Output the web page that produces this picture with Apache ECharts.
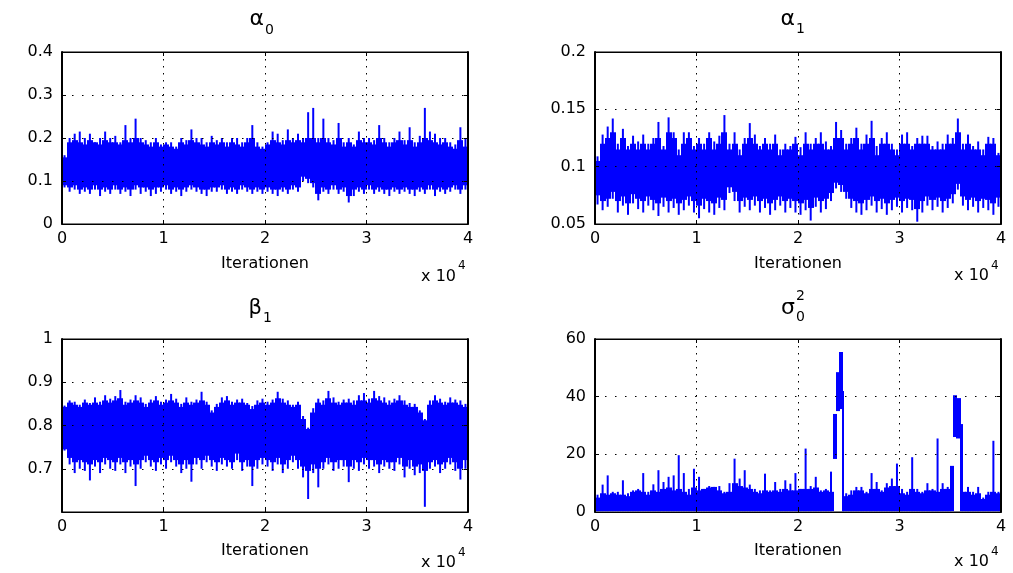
<!DOCTYPE html>
<html><head><meta charset="utf-8">
<script src="https://cdn.jsdelivr.net/npm/echarts@6/dist/echarts.min.js"></script>
<style>html,body{margin:0;padding:0;background:#fff}#c{width:1013px;height:573px}</style>
</head><body><div id="c"></div>
<script>
// ---------- data (each bin = 500 iterations) ----------
const BIN = 500;
const xTickLabels = ['0', '1', '2', '3', '4'];

// alpha_0 trace: extreme high / dense-core high / dense-core low / extreme low per bin
const alpha0Hi = [0.16,0.20,0.21,0.215,0.2,0.21,0.19,0.2,0.215,0.2,
  0.205,0.19,0.23,0.2,0.245,0.2,0.195,0.19,0.2,0.185,
  0.19,0.19,0.18,0.2,0.195,0.22,0.2,0.2,0.19,0.205,
  0.195,0.2,0.19,0.2,0.2,0.19,0.2,0.23,0.19,0.18,
  0.19,0.215,0.21,0.195,0.22,0.2,0.21,0.2,0.26,0.27,
  0.2,0.245,0.2,0.195,0.235,0.19,0.2,0.185,0.215,0.2,
  0.2,0.195,0.23,0.2,0.19,0.2,0.215,0.195,0.225,0.19,
  0.205,0.27,0.215,0.21,0.2,0.2,0.19,0.185,0.225,0.2];
const alpha0CoreHi = [0.155,0.19,0.195,0.19,0.185,0.195,0.19,0.185,0.195,0.19,
  0.19,0.185,0.195,0.19,0.2,0.19,0.185,0.18,0.19,0.18,
  0.185,0.18,0.175,0.19,0.185,0.195,0.19,0.185,0.18,0.19,
  0.185,0.19,0.18,0.19,0.185,0.18,0.19,0.2,0.18,0.175,
  0.185,0.195,0.19,0.185,0.195,0.19,0.195,0.19,0.2,0.2,
  0.19,0.2,0.19,0.185,0.2,0.18,0.19,0.18,0.195,0.19,
  0.19,0.185,0.2,0.19,0.18,0.19,0.195,0.185,0.195,0.18,
  0.19,0.2,0.195,0.19,0.185,0.19,0.18,0.175,0.195,0.18];
const alpha0CoreLo = [0.09,0.085,0.09,0.08,0.085,0.08,0.09,0.08,0.085,0.08,
  0.09,0.08,0.085,0.08,0.09,0.085,0.085,0.08,0.085,0.085,
  0.09,0.08,0.085,0.08,0.085,0.09,0.085,0.08,0.08,0.085,
  0.085,0.09,0.08,0.085,0.08,0.09,0.085,0.08,0.085,0.08,
  0.085,0.08,0.08,0.085,0.08,0.09,0.085,0.11,0.105,0.095,
  0.07,0.085,0.08,0.09,0.08,0.085,0.065,0.08,0.085,0.08,
  0.09,0.08,0.085,0.08,0.08,0.085,0.08,0.085,0.08,0.08,
  0.085,0.08,0.09,0.08,0.085,0.08,0.085,0.09,0.08,0.09];
const alpha0Lo = [0.085,0.075,0.08,0.07,0.075,0.07,0.08,0.065,0.075,0.07,
  0.08,0.07,0.075,0.065,0.08,0.07,0.075,0.065,0.07,0.075,
  0.08,0.07,0.075,0.065,0.075,0.08,0.075,0.07,0.065,0.075,
  0.075,0.08,0.07,0.075,0.07,0.08,0.075,0.07,0.075,0.07,
  0.075,0.07,0.065,0.075,0.07,0.08,0.075,0.1,0.095,0.085,
  0.055,0.075,0.07,0.08,0.07,0.075,0.05,0.065,0.075,0.07,
  0.08,0.07,0.075,0.07,0.065,0.075,0.07,0.075,0.07,0.065,
  0.075,0.07,0.08,0.065,0.075,0.07,0.075,0.08,0.07,0.08];

// alpha_1 trace
const alpha1Hi = [0.109,0.128,0.135,0.142,0.12,0.133,0.118,0.127,0.122,0.128,
  0.12,0.125,0.139,0.118,0.143,0.13,0.115,0.13,0.13,0.118,
  0.125,0.12,0.13,0.122,0.127,0.145,0.12,0.13,0.115,0.125,
  0.138,0.128,0.118,0.125,0.12,0.128,0.115,0.12,0.118,0.126,
  0.117,0.13,0.12,0.125,0.13,0.122,0.118,0.139,0.132,0.12,
  0.125,0.134,0.12,0.128,0.14,0.118,0.125,0.13,0.12,0.115,
  0.128,0.13,0.118,0.125,0.127,0.127,0.118,0.122,0.12,0.128,
  0.125,0.142,0.12,0.128,0.118,0.122,0.115,0.126,0.125,0.112];
const alpha1CoreHi = [0.105,0.12,0.125,0.13,0.115,0.125,0.115,0.12,0.115,0.12,
  0.115,0.12,0.125,0.115,0.13,0.125,0.11,0.12,0.125,0.115,
  0.12,0.115,0.125,0.115,0.12,0.13,0.115,0.12,0.11,0.12,
  0.125,0.12,0.115,0.12,0.115,0.12,0.11,0.115,0.115,0.12,
  0.11,0.12,0.115,0.12,0.12,0.115,0.115,0.125,0.125,0.115,
  0.12,0.125,0.115,0.12,0.125,0.11,0.12,0.12,0.115,0.11,
  0.12,0.12,0.115,0.12,0.12,0.12,0.115,0.115,0.115,0.12,
  0.12,0.13,0.115,0.12,0.115,0.115,0.11,0.12,0.12,0.11];
const alpha1CoreLo = [0.075,0.07,0.072,0.078,0.07,0.074,0.068,0.076,0.072,0.07,
  0.074,0.071,0.068,0.073,0.07,0.072,0.068,0.071,0.074,0.07,
  0.066,0.072,0.07,0.068,0.073,0.071,0.082,0.078,0.07,0.073,
  0.071,0.074,0.07,0.072,0.068,0.071,0.074,0.07,0.072,0.07,
  0.068,0.071,0.064,0.073,0.07,0.072,0.077,0.086,0.084,0.078,
  0.072,0.07,0.068,0.071,0.074,0.07,0.072,0.068,0.071,0.073,
  0.07,0.072,0.071,0.063,0.07,0.074,0.071,0.073,0.07,0.072,
  0.076,0.085,0.074,0.071,0.073,0.07,0.072,0.071,0.068,0.073];
const alpha1Lo = [0.067,0.062,0.065,0.072,0.06,0.066,0.058,0.068,0.063,0.06,
  0.066,0.062,0.057,0.065,0.06,0.064,0.058,0.062,0.066,0.06,
  0.055,0.063,0.06,0.058,0.064,0.062,0.077,0.07,0.06,0.065,
  0.062,0.066,0.06,0.064,0.058,0.062,0.066,0.06,0.064,0.06,
  0.058,0.062,0.053,0.065,0.06,0.063,0.07,0.081,0.078,0.072,
  0.064,0.06,0.058,0.062,0.066,0.06,0.063,0.058,0.062,0.065,
  0.06,0.064,0.062,0.052,0.06,0.066,0.062,0.065,0.06,0.064,
  0.068,0.08,0.066,0.062,0.065,0.06,0.064,0.062,0.058,0.065];

// beta_1 trace
const beta1Hi = [0.846,0.858,0.855,0.848,0.86,0.852,0.865,0.855,0.87,0.862,
  0.868,0.882,0.855,0.86,0.87,0.865,0.85,0.86,0.868,0.855,
  0.86,0.873,0.862,0.85,0.865,0.855,0.86,0.878,0.855,0.835,
  0.85,0.865,0.868,0.855,0.86,0.862,0.852,0.845,0.858,0.862,
  0.855,0.86,0.878,0.862,0.858,0.848,0.855,0.822,0.795,0.84,
  0.862,0.858,0.88,0.865,0.855,0.86,0.862,0.858,0.87,0.875,
  0.862,0.88,0.868,0.865,0.858,0.862,0.87,0.858,0.852,0.85,
  0.835,0.815,0.858,0.87,0.862,0.855,0.865,0.86,0.858,0.85];
const beta1CoreHi = [0.843,0.853,0.848,0.843,0.853,0.848,0.853,0.848,0.858,0.853,
  0.858,0.863,0.848,0.853,0.858,0.853,0.843,0.853,0.858,0.848,
  0.853,0.858,0.853,0.843,0.853,0.848,0.853,0.858,0.848,0.83,
  0.843,0.853,0.858,0.848,0.853,0.853,0.848,0.838,0.848,0.853,
  0.848,0.853,0.863,0.853,0.848,0.843,0.848,0.815,0.792,0.83,
  0.853,0.848,0.863,0.853,0.848,0.853,0.853,0.848,0.858,0.858,
  0.853,0.863,0.858,0.853,0.848,0.853,0.858,0.848,0.843,0.843,
  0.83,0.812,0.848,0.858,0.853,0.848,0.853,0.853,0.848,0.843];
const beta1CoreLo = [0.745,0.725,0.715,0.72,0.715,0.71,0.72,0.715,0.725,0.72,
  0.715,0.725,0.715,0.72,0.71,0.72,0.73,0.72,0.715,0.725,
  0.72,0.73,0.72,0.71,0.72,0.71,0.725,0.72,0.73,0.72,
  0.715,0.725,0.72,0.715,0.735,0.715,0.72,0.705,0.72,0.725,
  0.72,0.715,0.725,0.71,0.72,0.73,0.72,0.705,0.695,0.71,
  0.7,0.715,0.725,0.715,0.72,0.72,0.705,0.72,0.715,0.725,
  0.72,0.72,0.71,0.72,0.715,0.715,0.725,0.705,0.72,0.705,
  0.71,0.695,0.715,0.72,0.71,0.715,0.725,0.715,0.7,0.72];
const beta1Lo = [0.742,0.71,0.69,0.7,0.695,0.673,0.705,0.69,0.71,0.7,
  0.695,0.71,0.69,0.705,0.66,0.7,0.715,0.705,0.695,0.71,
  0.7,0.715,0.705,0.69,0.7,0.67,0.71,0.7,0.715,0.705,
  0.695,0.71,0.705,0.7,0.72,0.695,0.705,0.66,0.7,0.71,
  0.705,0.695,0.71,0.69,0.7,0.715,0.7,0.68,0.63,0.69,
  0.657,0.7,0.71,0.695,0.7,0.705,0.669,0.7,0.695,0.71,
  0.7,0.705,0.69,0.705,0.7,0.695,0.71,0.68,0.7,0.685,
  0.69,0.612,0.7,0.705,0.69,0.7,0.71,0.695,0.675,0.7];

// sigma_0^2 trace: floor, band top and spike top per bin (null = bin covered by a peak segment)
const sigmaFloor = 0.3;
const sigmaBase = [5,6.5,6,6.5,6,6,5.5,7,7.5,7,
  6,7.5,7,8,8.5,7.5,8,7,6,8.5,
  7.5,8,8.5,8.7,7.5,6.5,7,10,9,8.5,
  8,7,6.5,7.5,7,7.5,7,8,7.5,7.5,
  8,8,8,8.5,7,7.5,7,null,null,5.5,
  6,7.5,7.5,6.5,8,8,7,8.5,9,9,
  6.5,6,8,7,6.5,7.5,7.5,7,8,8,
  null,null,null,7,6,6.5,4.5,6,7,6.5];
const sigmaSpike = [6,9.5,12.7,7,7,11,6.5,7.5,8,13.5,
  7,9.6,14.5,10.4,12.2,12.7,19.7,13.5,8,15,
  12.2,8,9,8.7,9,7,10,18.5,11.6,14.5,
  9.5,8,7.5,13.3,7.5,10.4,8,11,9.8,13.5,
  8,22,9,12.2,7.5,8,14,null,null,6.5,
  7.5,8.7,8.7,7,13.5,10.4,7.5,10,11.6,16.8,
  8,7,19,8,7,10,8,25.5,10,8.7,
  null,null,null,8.7,7,8.7,5,7,24.7,7];
// the two excursions of sigma_0^2 (iteration start, end, low, high)
const peakStart = [23500, 23770, 24110, 24340, 35000, 35340, 35600, 35990, 36200];
const peakEnd   = [23770, 24110, 24340, 24500, 35340, 35600, 35990, 36200, 36500];
const peakLo    = [18.4, 35, 35.7, 0.3, 0.3, 26, 25.5, 0.3, 0.3];
const peakHi    = [34, 48.5, 55.5, 42, 16, 40.5, 39.5, 30.5, 7];

// ---------- chart ----------
const FONT = 'DejaVu Sans';
const BLUE = '#0000ff';

function binData(lo, cLo, cHi, hi) {
  const out = [];
  for (let i = 0; i < hi.length; i++) {
    if (hi[i] == null) continue;
    out.push([i * BIN, (i + 1) * BIN, lo[i], cLo[i], cHi[i], hi[i]]);
  }
  return out;
}
function renderBin(params, api) {
  const s = api.value(0), e = api.value(1);
  const lo = api.value(2), hi = api.value(5);
  const cLo = Math.max(api.value(3), lo), cHi = Math.min(api.value(4), hi);
  const a = api.coord([s, cHi]), b = api.coord([e, cLo]);
  const m = (s + e) / 2;
  const t = api.coord([m, hi]), u = api.coord([m, lo]);
  const x0 = Math.floor(a[0]), x1 = Math.ceil(b[0]);
  return {
    type: 'group',
    children: [
      { type: 'rect', shape: { x: x0, y: a[1], width: x1 - x0, height: b[1] - a[1] }, style: { fill: BLUE } },
      { type: 'rect', shape: { x: t[0] - 1, y: t[1], width: 2, height: u[1] - t[1] }, style: { fill: BLUE } }
    ]
  };
}
function renderSeg(params, api) {
  const a = api.coord([api.value(0), api.value(3)]);
  const b = api.coord([api.value(1), api.value(2)]);
  const x0 = Math.floor(a[0]), x1 = Math.ceil(b[0]);
  return { type: 'rect', shape: { x: x0, y: a[1], width: x1 - x0, height: b[1] - a[1] }, style: { fill: BLUE } };
}

const sigmaLoArr = sigmaBase.map(v => v == null ? null : sigmaFloor);
const panels = [
  { grid: { left: 62, top: 52, width: 406, height: 172 }, y: [0, 0.4, 0.1], data: binData(alpha0Lo, alpha0CoreLo, alpha0CoreHi, alpha0Hi), gap: 32 },
  { grid: { left: 595, top: 52, width: 406, height: 172 }, y: [0.05, 0.2, 0.05], data: binData(alpha1Lo, alpha1CoreLo, alpha1CoreHi, alpha1Hi), gap: 32 },
  { grid: { left: 62, top: 339, width: 406, height: 173 }, y: [0.6, 1, 0.1], data: binData(beta1Lo, beta1CoreLo, beta1CoreHi, beta1Hi), gap: 31, hideMin: true },
  { grid: { left: 595, top: 339, width: 406, height: 173 }, y: [0, 60, 20], data: binData(sigmaLoArr, sigmaLoArr, sigmaBase, sigmaSpike), gap: 31 }
];

const txtStyle = { color: '#000', fontFamily: FONT, fontSize: 16 };
const grids = [], xAxes = [], yAxes = [], series = [];
panels.forEach((p, i) => {
  grids.push(Object.assign({ show: true, borderColor: '#000', borderWidth: 1, backgroundColor: '#fff' }, p.grid));
  xAxes.push({
    type: 'value', gridIndex: i, min: 0, max: 40000, interval: 10000,
    axisLine: { show: true, onZero: false, lineStyle: { color: '#000', width: 1 } },
    axisTick: { show: true, inside: true, length: 4, lineStyle: { color: '#000' } },
    axisLabel: Object.assign({ margin: 7, formatter: v => xTickLabels[Math.round(v / 10000)] }, txtStyle),
    splitLine: { show: true, lineStyle: { color: '#000', width: 1, type: [1.5, 5.5] } },
    name: 'Iterationen', nameLocation: 'middle', nameGap: p.gap, nameTextStyle: txtStyle, z: 5
  });
  yAxes.push({
    type: 'value', gridIndex: i, min: p.y[0], max: p.y[1], interval: p.y[2],
    axisLine: { show: true, onZero: false, lineStyle: { color: '#000', width: 2 } },
    axisTick: { show: true, inside: true, length: 4, lineStyle: { color: '#000' } },
    axisLabel: Object.assign({ margin: 9, showMinLabel: !p.hideMin }, txtStyle),
    splitLine: { show: true, lineStyle: { color: '#000', width: 1, type: [1.5, 8.5] } }, z: 5
  });
  series.push({ type: 'custom', xAxisIndex: i, yAxisIndex: i, data: p.data, renderItem: renderBin, clip: true, silent: true, z: 2 });
});
// top / right box axes with inward ticks
panels.forEach((p, i) => {
  xAxes.push({
    type: 'value', gridIndex: i, position: 'top', min: 0, max: 40000, interval: 10000,
    axisLine: { show: true, onZero: false, lineStyle: { color: '#000' } },
    axisTick: { show: true, inside: true, length: 4, lineStyle: { color: '#000' } },
    axisLabel: { show: false }, splitLine: { show: false }, z: 5
  });
  yAxes.push({
    type: 'value', gridIndex: i, position: 'right', min: p.y[0], max: p.y[1], interval: p.y[2],
    axisLine: { show: true, onZero: false, lineStyle: { color: '#000', width: 2 } },
    axisTick: { show: true, inside: true, length: 4, lineStyle: { color: '#000' } },
    axisLabel: { show: false }, splitLine: { show: false }, z: 5
  });
});
const peakData = peakStart.map((s, k) => [s, peakEnd[k], peakLo[k], peakHi[k]]);
series.push({ type: 'custom', xAxisIndex: 3, yAxisIndex: 3, data: peakData, renderItem: renderSeg, clip: true, silent: true, z: 2 });

function T(text, x, y, size, align) {
  return { type: 'text', x: x, y: y, silent: true, style: { text: text, fill: '#000', fontFamily: FONT, fontSize: size, align: align, verticalAlign: 'middle' } };
}
const graphics = [
  T('α', 264, 19, 22, 'right'), T('0', 265, 30, 14, 'left'),
  T('α', 795, 19, 22, 'right'), T('1', 796, 29.5, 14, 'left'),
  T('β', 262, 309, 21, 'right'), T('1', 263, 318, 14, 'left'),
  T('σ', 795, 308, 22, 'right'), T('0', 796, 317.5, 14, 'left'), T('2', 796, 296, 14, 'left'),
  T('x 10', 456, 277, 16, 'right'), T('4', 458, 266, 12, 'left'),
  T('x 10', 989, 276, 16, 'right'), T('4', 991, 266, 12, 'left'),
  T('x 10', 456, 562.5, 16, 'right'), T('4', 458, 553, 12, 'left'),
  T('x 10', 989, 562, 16, 'right'), T('4', 991, 552, 12, 'left')
];

const chart = echarts.init(document.getElementById('c'), null, { renderer: 'canvas' });
chart.setOption({
  animation: false,
  backgroundColor: '#fff',
  grid: grids, xAxis: xAxes, yAxis: yAxes, series: series,
  graphic: graphics
});
</script></body></html>
